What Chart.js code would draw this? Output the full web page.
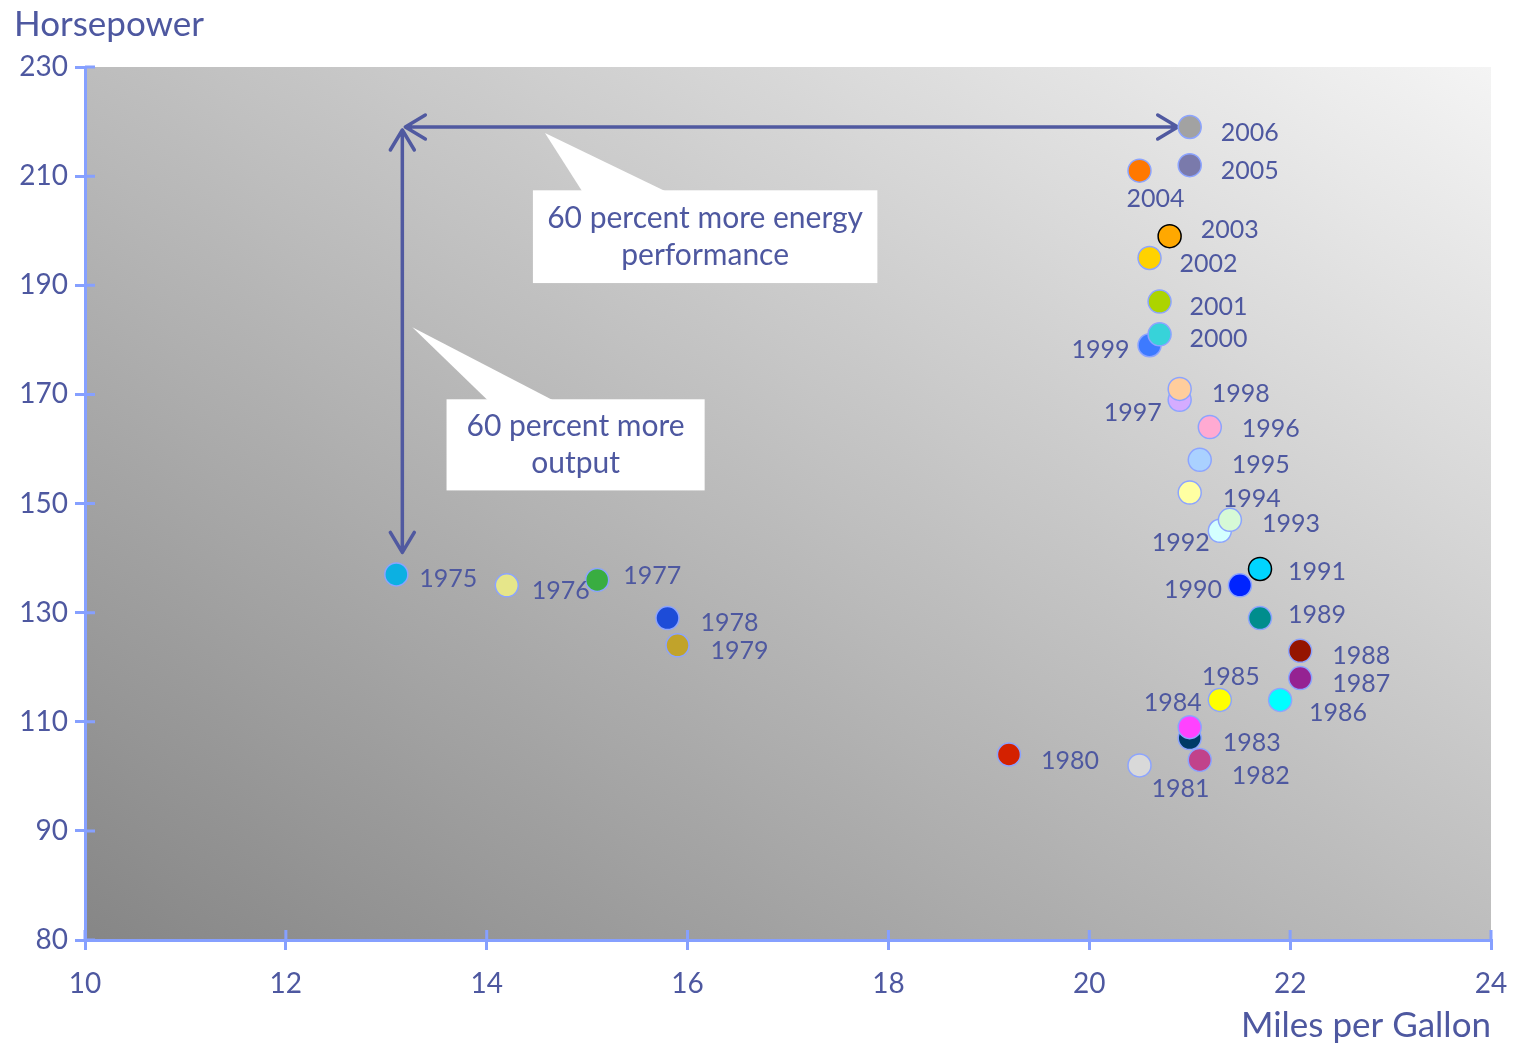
<!DOCTYPE html>
<html>
<head>
<meta charset="utf-8">
<title>Horsepower vs. Miles per Gallon</title>
<script src="https://cdn.jsdelivr.net/npm/chart.js@4/dist/chart.umd.min.js"></script>
<style>
  html, body { margin: 0; padding: 0; background: #ffffff; }
  #wrap { width: 1516px; height: 1047px; position: relative; }
</style>
</head>
<body>
<div id="wrap"><canvas id="chart" width="1516" height="1047"></canvas></div>
<script>
// Model years, fuel economy and engine output
const years = [1975, 1976, 1977, 1978, 1979, 1980, 1981, 1982, 1983, 1984,
               1985, 1986, 1987, 1988, 1989, 1990, 1991, 1992, 1993, 1994,
               1995, 1996, 1997, 1998, 1999, 2000, 2001, 2002, 2003, 2004,
               2005, 2006];
const mpg = [13.1, 14.2, 15.1, 15.8, 15.9, 19.2, 20.5, 21.1, 21.0, 21.0,
             21.3, 21.9, 22.1, 22.1, 21.7, 21.5, 21.7, 21.3, 21.4, 21.0,
             21.1, 21.2, 20.9, 20.9, 20.6, 20.7, 20.7, 20.6, 20.8, 20.5,
             21.0, 21.0];
const horsepower = [137, 135, 136, 129, 124, 104, 102, 103, 107, 109,
                    114, 114, 118, 123, 129, 135, 138, 145, 147, 152,
                    158, 164, 169, 171, 179, 181, 187, 195, 199, 211,
                    212, 219];

// Axis ticks
const xTickValues = [10, 12, 14, 16, 18, 20, 22, 24];
const yTickValues = [70, 90, 110, 130, 150, 170, 190, 210, 230];
const yTickLabels = ['80', '90', '110', '130', '150', '170', '190', '210', '230'];

// Callout texts
const powerNote = ['60 percent more', 'output'];
const economyNote = ['60 percent more energy', 'performance'];

// ---- styling ----
const markerColors = ['#0cb0e2', '#e6e68a', '#39ad41', '#1d4cd8', '#c1a32b',
                      '#d42100', '#d9d9d9', '#c1428b', '#003a66', '#ff42ff',
                      '#ffff00', '#00ffff', '#952292', '#951500', '#008d8d',
                      '#0024ff', '#00d5ff', '#d4ffff', '#d6f9d6', '#ffffa2',
                      '#aad1ff', '#ffaad2', '#d5acff', '#ffcd9c', '#3d7aff',
                      '#37d3d9', '#acd400', '#ffd200', '#ffa800', '#ff7800',
                      '#7a7aab', '#a2a2a2'];
const markerOutlines = years.map(y => (y === 1991 || y === 2003) ? '#000000' : '#8ca4ff');

// label placement: [dx, dy, alignment] relative to the marker centre
const labelPlacement = [
  [23, 5, 'left'], [25, 6, 'left'], [26, -4, 'left'], [33, 5, 'left'], [33, 6, 'left'],
  [32, 6, 'left'], [41, 24, 'center'], [32, 16, 'left'], [33, 5, 'left'], [-17, -24, 'center'],
  [11, -23, 'center'], [29, 13, 'left'], [32, 6, 'left'], [32, 5, 'left'], [28, -3, 'left'],
  [-18, 5, 'right'], [28, 3, 'left'], [-10, 12, 'right'], [32, 4, 'left'], [33, 6, 'left'],
  [32, 5, 'left'], [32, 2, 'left'], [-18, 13, 'right'], [32, 5, 'left'], [-20, 5, 'right'],
  [30, 5, 'left'], [30, 5, 'left'], [30, 6, 'left'], [31, -6, 'left'], [16, 28, 'center'],
  [31, 6, 'left'], [31, 6, 'left']
];

const TEXT = '#4e58a0';
const AXIS = '#86a0ff';
const FONT = 'Lato, "Open Sans", sans-serif';

// background of the plotting area: diagonal grey ramp
const areaBackground = {
  id: 'areaBackground',
  beforeDraw(chart) {
    const { ctx, chartArea: a } = chart;
    const W = a.right - a.left, H = a.bottom - a.top;
    const vx = 1 / W, vy = -1 / H;
    const s = 2 / (vx * vx + vy * vy);
    const g = ctx.createLinearGradient(a.left, a.bottom, a.left + s * vx, a.bottom + s * vy);
    g.addColorStop(0, '#868686');
    g.addColorStop(1, '#f4f4f4');
    ctx.save();
    ctx.fillStyle = g;
    ctx.fillRect(a.left, a.top, W, H);
    ctx.restore();
  }
};

// inner halves of the tick marks, crossing into the plot
const innerTicks = {
  id: 'innerTicks',
  afterDraw(chart) {
    const { ctx, chartArea: a, scales } = chart;
    ctx.save();
    ctx.strokeStyle = AXIS;
    ctx.lineWidth = 3;
    ctx.beginPath();
    scales.x.ticks.forEach(t => {
      const px = scales.x.getPixelForValue(t.value);
      ctx.moveTo(px, a.bottom);
      ctx.lineTo(px, a.bottom - 10);
    });
    scales.y.ticks.forEach(t => {
      const py = scales.y.getPixelForValue(t.value);
      ctx.moveTo(a.left, py);
      ctx.lineTo(a.left + 10, py);
    });
    ctx.stroke();
    ctx.restore();
  }
};

function arrowHead(ctx, x, y, dirX, dirY) {
  const len = 20, spread = 12;
  const px = -dirY, py = dirX;
  ctx.moveTo(x - dirX * len + px * spread, y - dirY * len + py * spread);
  ctx.lineTo(x, y);
  ctx.lineTo(x - dirX * len - px * spread, y - dirY * len - py * spread);
}

function callout(ctx, box, tip, base, lines) {
  ctx.fillStyle = '#ffffff';
  ctx.beginPath();
  ctx.moveTo(base[0], box.top + 1);
  ctx.lineTo(tip[0], tip[1]);
  ctx.lineTo(base[1], box.top + 1);
  ctx.closePath();
  ctx.fill();
  ctx.fillRect(box.left, box.top, box.right - box.left, box.bottom - box.top);
  ctx.fillStyle = TEXT;
  ctx.font = '30px ' + FONT;
  ctx.textAlign = 'center';
  ctx.textBaseline = 'middle';
  const cx = (box.left + box.right) / 2;
  const cy = (box.top + box.bottom) / 2;
  const lh = 37.5;
  lines.forEach((ln, i) => {
    ctx.fillText(ln, cx, cy + (i - (lines.length - 1) / 2) * lh);
  });
}

// double-ended comparison arrows and their callouts
const annotations = {
  id: 'annotations',
  beforeDatasetsDraw(chart) {
    const { ctx, scales: { x, y } } = chart;
    const first = 0, last = years.length - 1;
    const cornerX = x.getPixelForValue(mpg[first]) + 6;
    const cornerY = y.getPixelForValue(horsepower[last]);
    const rightTip = x.getPixelForValue(mpg[last]) - 12;
    const bottomTip = y.getPixelForValue(horsepower[first]) - 22;

    ctx.save();
    ctx.strokeStyle = '#5059a0';
    ctx.lineWidth = 3.5;
    ctx.lineCap = 'round';
    ctx.lineJoin = 'round';
    ctx.beginPath();
    // horizontal arrow
    ctx.moveTo(cornerX + 3, cornerY);
    ctx.lineTo(rightTip, cornerY);
    arrowHead(ctx, rightTip, cornerY, 1, 0);
    arrowHead(ctx, cornerX + 3, cornerY, -1, 0);
    // vertical arrow
    ctx.moveTo(cornerX, cornerY + 3);
    ctx.lineTo(cornerX, bottomTip);
    arrowHead(ctx, cornerX, bottomTip, 0, 1);
    arrowHead(ctx, cornerX, cornerY + 3, 0, -1);
    ctx.stroke();

    // callout boxes anchored in data units
    callout(ctx,
      { left: x.getPixelForValue(14.46), right: x.getPixelForValue(17.89),
        top: y.getPixelForValue(207.4), bottom: y.getPixelForValue(190.4) },
      [x.getPixelForValue(14.58), cornerY + 6],
      [x.getPixelForValue(14.95), x.getPixelForValue(15.78)],
      economyNote);
    callout(ctx,
      { left: x.getPixelForValue(13.6), right: x.getPixelForValue(16.17),
        top: y.getPixelForValue(169.1), bottom: y.getPixelForValue(152.4) },
      [cornerX + 10, y.getPixelForValue(182.3)],
      [x.getPixelForValue(14.01), x.getPixelForValue(14.66)],
      powerNote);
    ctx.restore();
  }
};

// year labels next to each marker
const yearLabels = {
  id: 'yearLabels',
  afterDatasetsDraw(chart) {
    const { ctx } = chart;
    const meta = chart.getDatasetMeta(0);
    ctx.save();
    ctx.fillStyle = TEXT;
    ctx.font = '25px ' + FONT;
    ctx.textBaseline = 'middle';
    meta.data.forEach((pt, i) => {
      const [dx, dy, al] = labelPlacement[i];
      ctx.textAlign = al;
      ctx.fillText(String(years[i]), pt.x + dx, pt.y + dy);
    });
    ctx.restore();
  }
};

new Chart(document.getElementById('chart'), {
  type: 'scatter',
  data: {
    datasets: [{
      label: 'Model year',
      data: years.map((yr, i) => ({ x: mpg[i], y: horsepower[i] })),
      backgroundColor: markerColors,
      borderColor: markerOutlines,
      borderWidth: 1.5,
      pointRadius: 11.5,
      pointHoverRadius: 11.5
    }]
  },
  options: {
    responsive: false,
    devicePixelRatio: 1,
    animation: false,
    layout: { padding: { left: 14, right: 25, top: 0, bottom: 0 } },
    plugins: {
      legend: { display: false },
      tooltip: { enabled: false },
      title: {
        display: true,
        text: 'Horsepower',
        align: 'start',
        color: TEXT,
        font: { family: FONT, size: 35, weight: 'normal' },
        padding: { top: 4, bottom: 21 }
      }
    },
    scales: {
      x: {
        type: 'linear',
        min: 10, max: 24,
        afterBuildTicks(scale) { scale.ticks = xTickValues.map(v => ({ value: v })); },
        afterFit(scale) {
          scale.height = 107;
          scale.paddingRight = 0;
        },
        ticks: { color: TEXT, font: { family: FONT, size: 28 }, padding: 17, maxRotation: 0 },
        grid: { drawOnChartArea: false, color: AXIS, lineWidth: 3, tickLength: 10 },
        border: { color: AXIS, width: 3 },
        title: {
          display: true,
          text: 'Miles per Gallon',
          align: 'end',
          color: TEXT,
          font: { family: FONT, size: 35 },
          padding: { top: 0, bottom: 0 }
        }
      },
      y: {
        type: 'linear',
        min: 70, max: 230,
        afterBuildTicks(scale) { scale.ticks = yTickValues.map(v => ({ value: v })); },
        afterFit(scale) { scale.width = 71; },
        ticks: {
          color: TEXT, font: { family: FONT, size: 28 }, padding: 7,
          callback: (value, index) => yTickLabels[index]
        },
        grid: { drawOnChartArea: false, color: AXIS, lineWidth: 3, tickLength: 10 },
        border: { color: AXIS, width: 3 }
      }
    }
  },
  plugins: [areaBackground, annotations, yearLabels, innerTicks]
});
</script>
</body>
</html>
